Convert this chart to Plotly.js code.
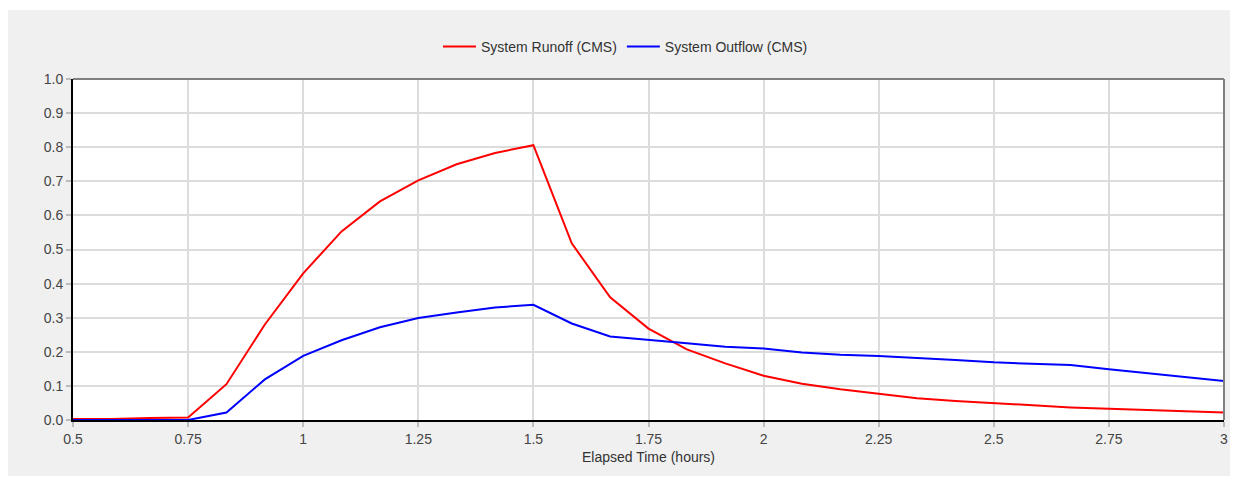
<!DOCTYPE html>
<html>
<head>
<meta charset="utf-8">
<script src="https://cdn.plot.ly/plotly-3.0.1.min.js"></script>
<style>
  html, body { margin: 0; padding: 0; background: #ffffff; width: 1234px; height: 483px; overflow: hidden; }
  #chart { position: absolute; left: 8px; top: 10px; width: 1222px; height: 466px; }
</style>
</head>
<body>
<div id="chart"></div>
<script>
// Elapsed time (hours), 5-minute steps
const elapsedHours = [0.5, 0.5833, 0.6667, 0.75, 0.8333, 0.9167, 1.0, 1.0833, 1.1667, 1.25,
  1.3333, 1.4167, 1.5, 1.5833, 1.6667, 1.75, 1.8333, 1.9167, 2.0, 2.0833,
  2.1667, 2.25, 2.3333, 2.4167, 2.5, 2.5833, 2.6667, 2.75, 2.8333, 2.9167, 3.0];

// System Runoff (CMS)
const systemRunoff = [0.003, 0.003, 0.006, 0.007, 0.105, 0.280, 0.430, 0.553, 0.641, 0.703,
  0.750, 0.783, 0.806, 0.518, 0.360, 0.268, 0.207, 0.166, 0.130, 0.106,
  0.090, 0.076, 0.064, 0.056, 0.049, 0.042, 0.037, 0.033, 0.029, 0.026, 0.022];

// System Outflow (CMS)
const systemOutflow = [0.0, 0.0, 0.0, 0.0, 0.022, 0.119, 0.188, 0.234, 0.272, 0.299,
  0.315, 0.330, 0.338, 0.283, 0.245, 0.234, 0.225, 0.215, 0.210, 0.198,
  0.191, 0.188, 0.183, 0.176, 0.169, 0.165, 0.161, 0.149, 0.137, 0.125, 0.114];

const seriesNames = ["System Runoff (CMS)", "System Outflow (CMS)"];
const xTickVals = [0.5, 0.75, 1, 1.25, 1.5, 1.75, 2, 2.25, 2.5, 2.75, 3];
const xTickText = ["0.5", "0.75", "1", "1.25", "1.5", "1.75", "2", "2.25", "2.5", "2.75", "3"];
const yTickVals = [0, 0.1, 0.2, 0.3, 0.4, 0.5, 0.6, 0.7, 0.8, 0.9, 1.0];
const yTickText = ["0.0", "0.1", "0.2", "0.3", "0.4", "0.5", "0.6", "0.7", "0.8", "0.9", "1.0"];
const xTitle = "Elapsed Time (hours)";

const traces = [
  { x: elapsedHours, y: systemRunoff, name: seriesNames[0], type: "scatter", mode: "lines",
    line: { color: "#ff0000", width: 2 } },
  { x: elapsedHours, y: systemOutflow, name: seriesNames[1], type: "scatter", mode: "lines",
    line: { color: "#0000ff", width: 2 } }
];

const layout = {
  width: 1222, height: 466,
  paper_bgcolor: "#f0f0f0",
  plot_bgcolor: "#ffffff",
  margin: { l: 65, r: 6, t: 69, b: 56 },
  font: { family: "Liberation Sans, Arial, sans-serif", size: 14, color: "#333333" },
  showlegend: true,
  legend: { orientation: "h", x: 0.48, xanchor: "center", y: 1 - 21 / 466, yanchor: "top",
    yref: "container", font: { size: 14, color: "#333333" }, bgcolor: "rgba(0,0,0,0)",
    itemwidth: 33 },
  xaxis: {
    range: [0.5, 3], tickmode: "array", tickvals: xTickVals, ticktext: xTickText,
    showgrid: true, gridcolor: "#dcdcdc", gridwidth: 2, zeroline: false,
    showline: true, linecolor: "#000000", linewidth: 2,
    ticks: "outside", ticklen: 5, tickcolor: "#bbbbbb", tickwidth: 2,
    tickfont: { size: 14, color: "#444444" },
    title: { text: xTitle, font: { size: 14, color: "#333333" }, standoff: 6 },
    fixedrange: true
  },
  yaxis: {
    range: [0, 1], tickmode: "array", tickvals: yTickVals, ticktext: yTickText,
    showgrid: true, gridcolor: "#dcdcdc", gridwidth: 2, zeroline: false,
    showline: true, linecolor: "#000000", linewidth: 2,
    ticks: "outside", ticklen: 5, tickcolor: "#bbbbbb", tickwidth: 2,
    tickfont: { size: 14, color: "#444444" },
    fixedrange: true
  },
  shapes: [
    { type: "line", xref: "paper", yref: "paper", x0: 0, x1: 1, y0: 1, y1: 1,
      line: { color: "#808080", width: 2 }, layer: "above" },
    { type: "line", xref: "paper", yref: "paper", x0: 1, x1: 1, y0: 0, y1: 1,
      line: { color: "#808080", width: 2 }, layer: "above" }
  ]
};

Plotly.newPlot("chart", traces, layout, { displayModeBar: false, staticPlot: true });
</script>
</body>
</html>
